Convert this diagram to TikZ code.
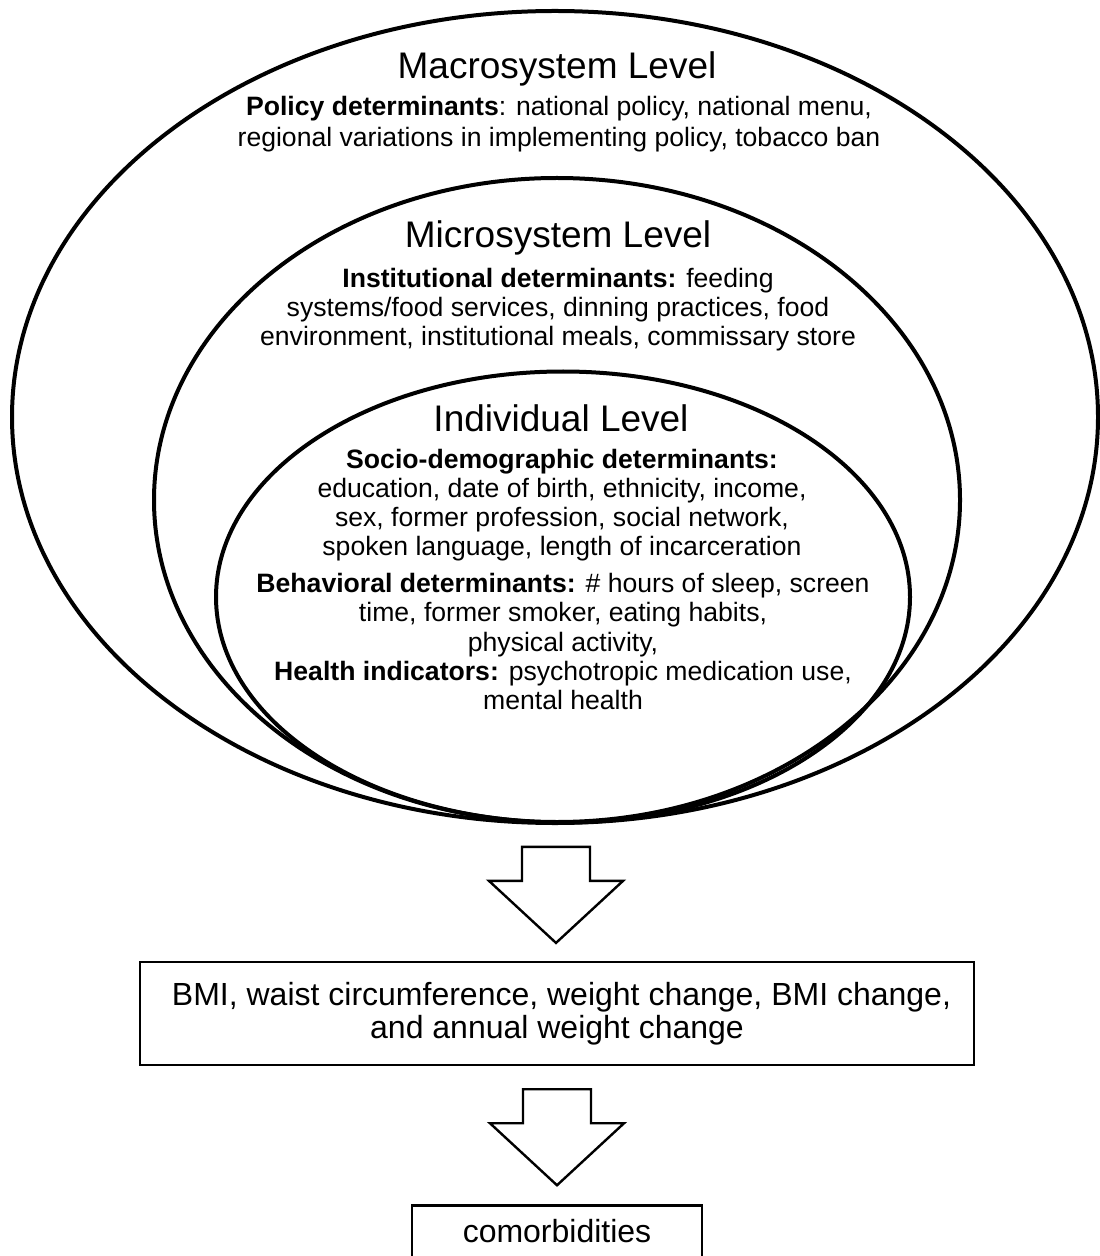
\documentclass[tikz,border=0pt]{standalone}
\usepackage{fontspec}
\setmainfont{Liberation Sans}
\usetikzlibrary{shapes.geometric, positioning, calc}
\tikzset{
  ring/.style       = {draw, ellipse, line width=2pt, inner sep=0pt},
  leveltitle/.style = {font=\fontsize{18.5}{22}\selectfont, align=center, inner sep=0pt},
  detail/.style     = {font=\fontsize{13.3}{14.6}\selectfont, align=center, inner sep=0pt},
  outbox/.style     = {draw, line width=1.2pt, rectangle, align=center, inner sep=0pt,
                       font=\fontsize{16}{16.5}\selectfont},
  blockarrow/.style = {draw, line width=1.2pt, line join=miter, fill=white},
}

\begin{document}
\begin{tikzpicture}[x=0.5pt, y=-0.5pt]
  \useasboundingbox (0,0) rectangle (1099,1256);

  % nested levels
  \node[ring, minimum width=543pt, minimum height=406pt] (macro) at (555,417) {};
  \node[ring, minimum width=403pt, minimum height=322pt] (micro) at (557,500) {};
  \node[ring, minimum width=347pt, minimum height=225.5pt] (indiv) at (563,597) {};

  \node[leveltitle] (mactitle) at (557,69) {Macrosystem Level};
  \node[detail, font=\fontsize{13.3}{15.5}\selectfont] (policy) at (559,124.5)
    {\textbf{Policy determinants}: national policy, national menu,\\
     regional variations in implementing policy, tobacco ban};

  \node[leveltitle] (mictitle) at (558,238) {Microsystem Level};
  \node[detail] (inst) at (558,309.5)
    {\textbf{Institutional determinants:} feeding\\
     systems/food services, dinning practices, food\\
     environment, institutional meals, commissary store};

  \node[leveltitle] (indtitle) at (561,418) {Individual Level};
  \node[detail] (socio) at (562,505)
    {\textbf{Socio-demographic determinants:}\\
     education, date of birth, ethnicity, income,\\
     sex, former profession, social network,\\
     spoken language, length of incarceration};
  \node[detail] (behav) at (563,641.5)
    {\textbf{Behavioral determinants:} \# hours of sleep, screen\\
     time, former smoker, eating habits,\\
     physical activity,\\
     \textbf{Health indicators:} psychotropic medication use,\\
     mental health};

  % outcomes
  \node[outbox, minimum width=417pt, minimum height=51.5pt] (outcome) at (557,1013.5)
    {\hspace*{.28em}BMI, waist circumference, weight change, BMI change,\\
     and annual weight change};
  \node[outbox, minimum width=145pt, minimum height=26pt] (comorb) at (557,1231.5) {comorbidities};

  \coordinate (a1) at ($(macro.south)!0.5!(outcome.north)$);
  \coordinate (a2) at ($(outcome.south)!0.5!(comorb.north)$);
  \foreach \p in {a1,a2}
    \draw[blockarrow] ($(\p)+(-34,-46)$) -- ++(68,0) -- ++(0,34) -- ++(33,0)
      -- ++(-67,62) -- ++(-67,-62) -- ++(33,0) -- cycle;
\end{tikzpicture}
\end{document}
